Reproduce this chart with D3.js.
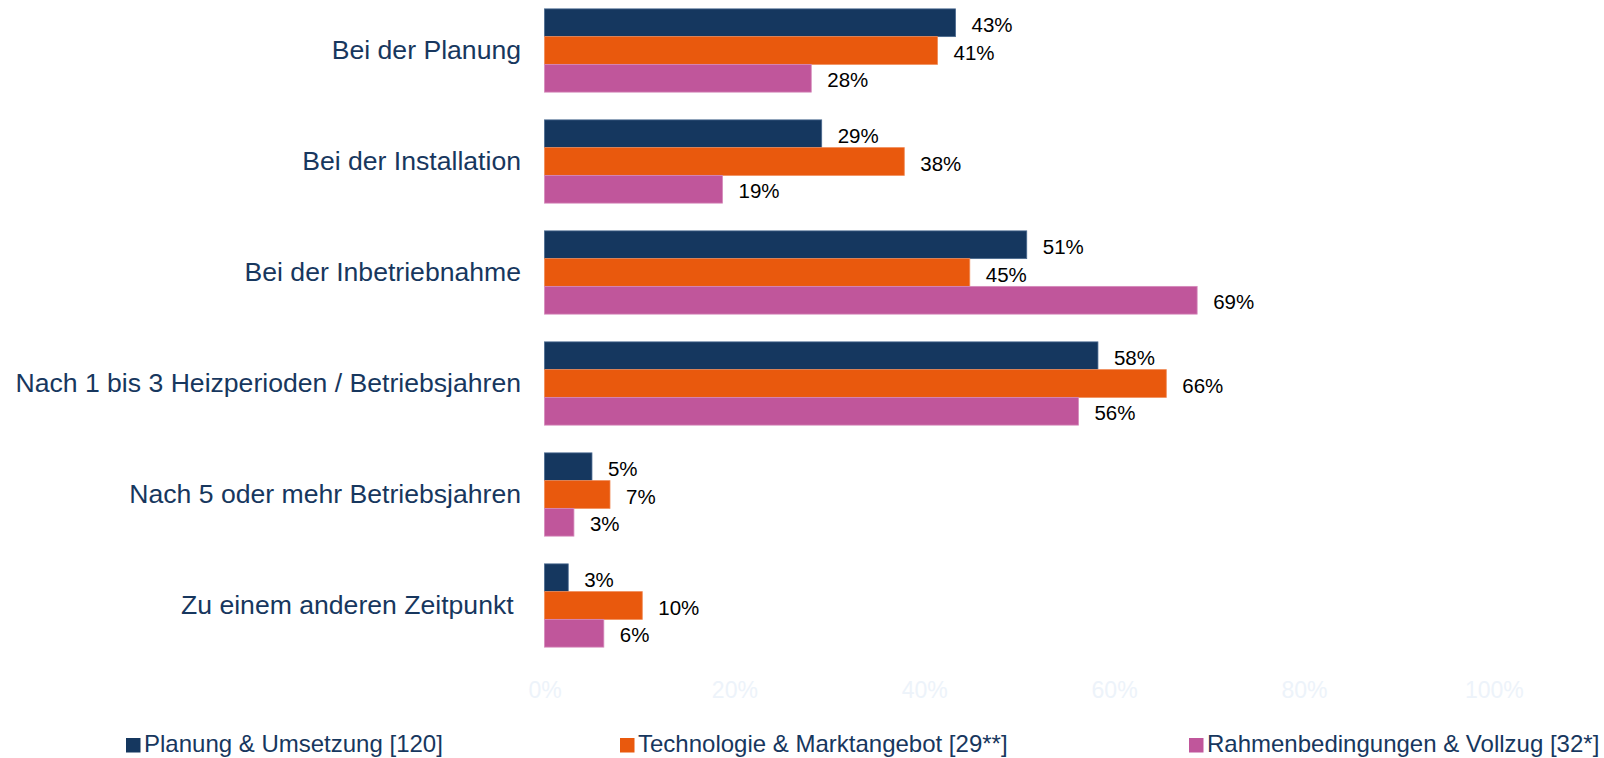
<!DOCTYPE html>
<html>
<head>
<meta charset="utf-8">
<script src="https://cdn.jsdelivr.net/npm/d3@7"></script>
<style>
  html, body { margin: 0; padding: 0; background: #ffffff; }
  svg { display: block; font-family: "Liberation Sans", Arial, sans-serif; }
</style>
</head>
<body>
<svg id="chart" width="1604" height="758"></svg>
<script>
// ---- data ----
const categories = [
  "Bei der Planung",
  "Bei der Installation",
  "Bei der Inbetriebnahme",
  "Nach 1 bis 3 Heizperioden / Betriebsjahren",
  "Nach 5 oder mehr Betriebsjahren",
  "Zu einem anderen Zeitpunkt "
];
const seriesNames = [
  "Planung & Umsetzung [120]",
  "Technologie & Marktangebot [29**]",
  "Rahmenbedingungen & Vollzug [32*]"
];
const planungUmsetzung = [43.3, 29.2, 50.8, 58.3, 5.0, 2.5];
const technologieMarkt = [41.4, 37.9, 44.8, 65.5, 6.9, 10.3];
const rahmenVollzug    = [28.1, 18.75, 68.75, 56.25, 3.1, 6.25];
const tickValues = [0, 20, 40, 60, 80, 100];

// ---- styles ----
const colors = ["#15375F", "#E9590D", "#C0569B"];
const strokes = ["#4a6a90", "#f08a55", "#d58abb"];
const seriesValues = [planungUmsetzung, technologieMarkt, rahmenVollzug];

const svg = d3.select("#chart");

const x = d3.scaleLinear().domain([0, 100]).range([544.5, 1493.8]);
const y = d3.scaleBand().domain(categories).range([-5, 661])
  .paddingInner(0.25).paddingOuter(0.125);
const ySub = d3.scaleBand().domain(d3.range(seriesNames.length))
  .range([0, y.bandwidth()]).padding(0);

const rows = categories.map((c, i) => ({
  cat: c,
  vals: seriesValues.map((s, k) => ({ k, v: s[i] }))
}));

// bars
const groups = svg.append("g").selectAll("g.grp")
  .data(rows).join("g")
  .attr("class", "grp")
  .attr("transform", d => `translate(0,${y(d.cat)})`);

groups.selectAll("rect")
  .data(d => d.vals).join("rect")
  .attr("x", x(0))
  .attr("y", d => ySub(d.k))
  .attr("width", d => x(d.v) - x(0))
  .attr("height", ySub.bandwidth())
  .attr("fill", d => colors[d.k])
  .attr("stroke", d => strokes[d.k])
  .attr("stroke-width", 0.8);

// value labels
groups.selectAll("text.val")
  .data(d => d.vals).join("text")
  .attr("class", "val")
  .attr("x", d => x(d.v) + 16)
  .attr("y", d => ySub(d.k) + ySub.bandwidth() / 2 + 2)
  .attr("dy", "0.35em")
  .attr("font-size", 20.5)
  .attr("fill", "#000000")
  .text(d => Math.round(d.v) + "%");

// category axis labels
const yAxis = d3.axisLeft(y).tickSize(0).tickPadding(0);
const ya = svg.append("g").attr("transform", `translate(521,0)`).call(yAxis);
ya.select(".domain").remove();
ya.selectAll("text")
  .attr("font-size", 26.6)
  .attr("font-family", "'Liberation Sans', Arial, sans-serif")
  .attr("fill", "#17375E")
  .attr("dy", "0.33em")
  .style("white-space", "pre");

// x axis (very faint tick labels)
const xAxis = d3.axisBottom(x).tickValues(tickValues).tickSize(0).tickFormat(d => d + "%");
const xa = svg.append("g").attr("transform", `translate(0,698)`).call(xAxis);
xa.select(".domain").remove();
xa.selectAll("text")
  .attr("y", 0).attr("dy", 0)
  .attr("font-size", 23)
  .attr("font-family", "'Liberation Sans', Arial, sans-serif")
  .attr("fill", "#EDF3FA");

// legend
const legendX = [126, 620, 1189];
const lg = svg.append("g").selectAll("g")
  .data(seriesNames).join("g")
  .attr("transform", (d, i) => `translate(${legendX[i]},0)`);
lg.append("rect")
  .attr("x", 0).attr("y", 738)
  .attr("width", 14.5).attr("height", 14.5)
  .attr("fill", (d, i) => colors[i]);
lg.append("text")
  .attr("x", 18).attr("y", 752)
  .attr("font-size", 24)
  .attr("fill", "#17375E")
  .text(d => d);
</script>
</body>
</html>
